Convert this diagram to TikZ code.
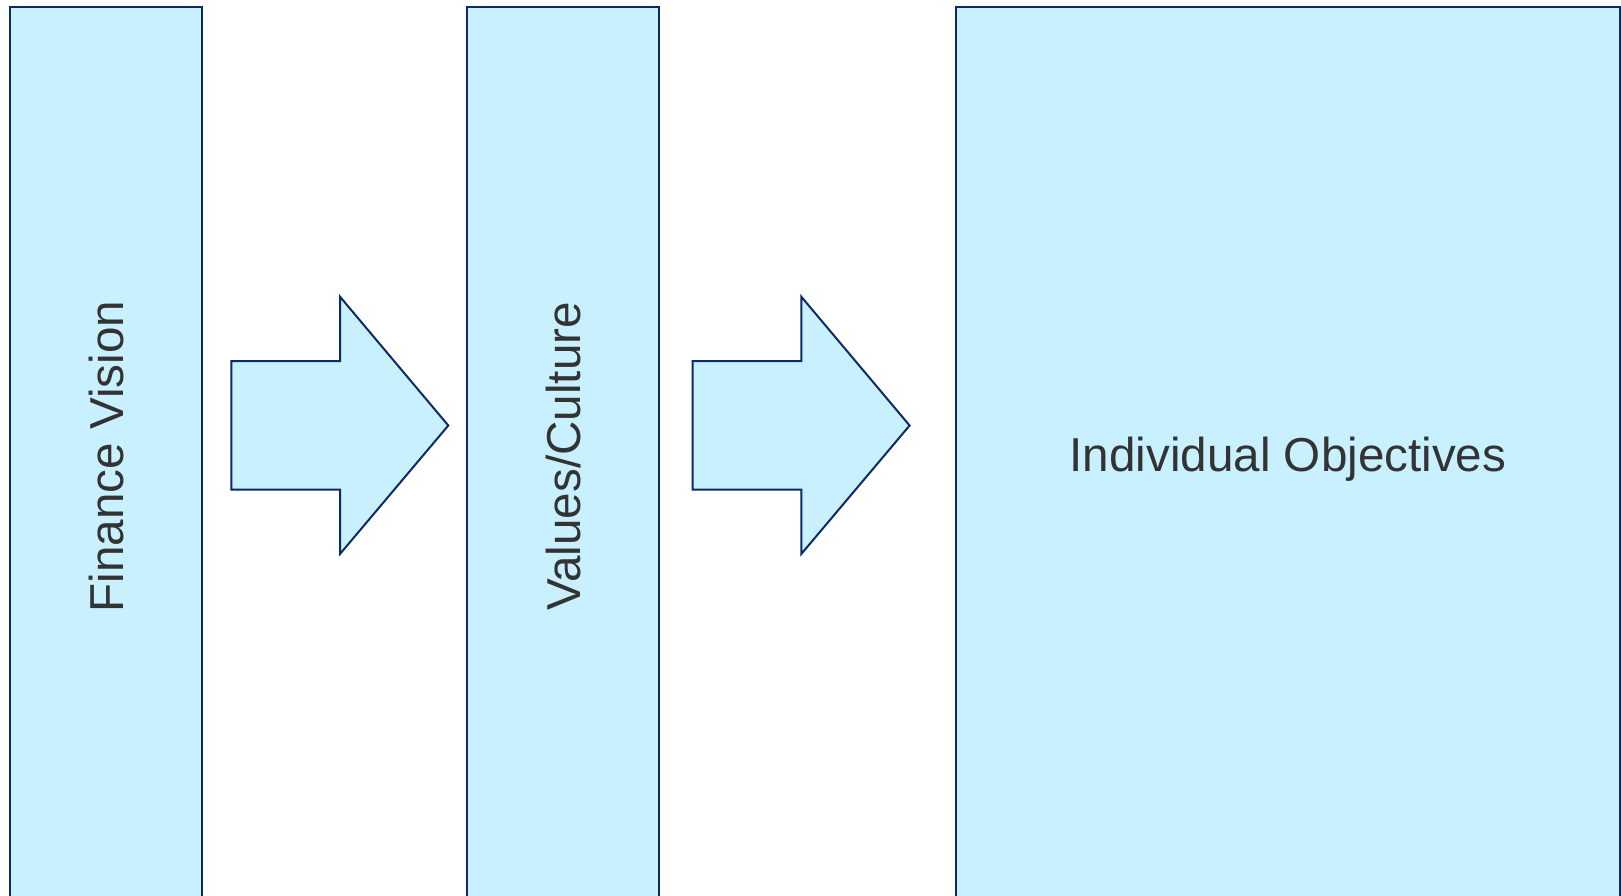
\documentclass[tikz,border=0pt]{standalone}
\usepackage{fontspec}
\setmainfont{Liberation Sans}
\definecolor{panelfill}{HTML}{C8F0FF}
\definecolor{panelline}{HTML}{0B2A66}
\definecolor{labeltext}{HTML}{333333}
\begin{document}
\begin{tikzpicture}[x=1pt,y=-1pt,
  panel/.style={draw=panelline,fill=panelfill,line width=2pt,inner sep=0pt,
    text=labeltext,font=\fontsize{47.6}{57}\selectfont,
    text height=34.1pt,text depth=0pt},
  flowarrow/.style={draw=panelline,fill=panelfill,line width=2pt,line join=miter}]
\useasboundingbox (0,0) rectangle (1621,896);
\clip (0,0) rectangle (1621,896);
% three panels running past the lower edge
\node[panel,minimum width=899pt,minimum height=192pt,rotate=90] (vision) at (106,456.5) {Finance Vision};
\node[panel,minimum width=899pt,minimum height=192pt,rotate=90] (values) at (563,456.5) {Values/Culture};
\node[panel,minimum width=664pt,minimum height=895pt] (objectives) at (1288,454.5) {Individual Objectives};
% block arrows between the panels
\foreach \dx in {0, 461.3}{
  \draw[flowarrow] (231.3+\dx,361) -- (340+\dx,361) -- (340+\dx,296.7)
    -- (448.3+\dx,425.5) -- (340+\dx,554) -- (340+\dx,489.5)
    -- (231.3+\dx,489.5) -- cycle;
}
\end{tikzpicture}
\end{document}
